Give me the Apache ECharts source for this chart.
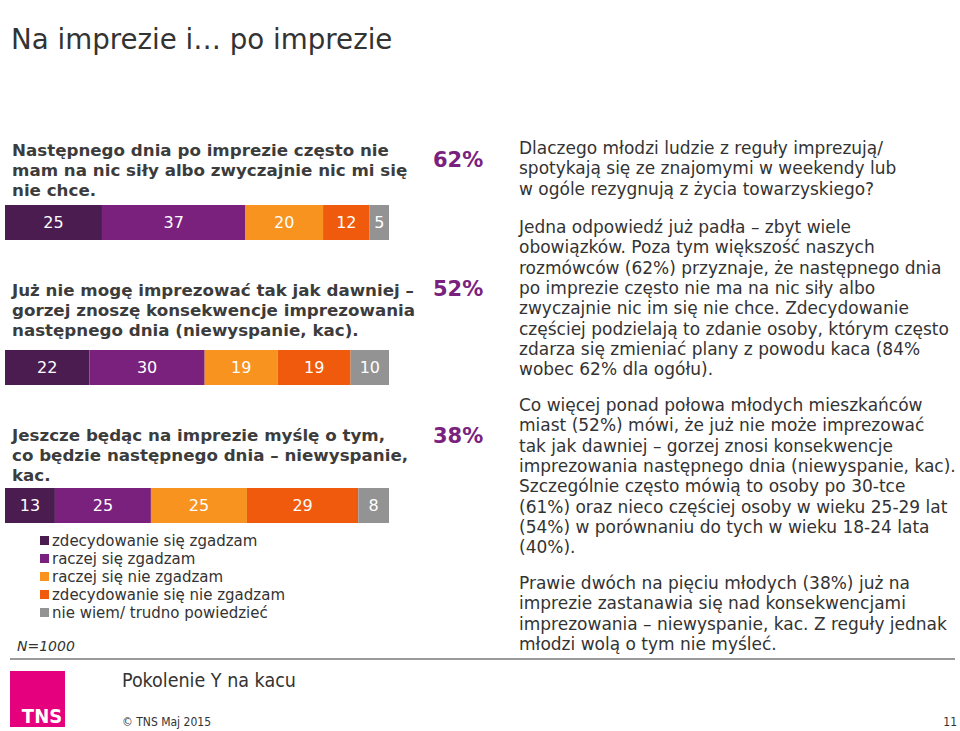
<!DOCTYPE html>
<html><head><meta charset="utf-8">
<script src="https://cdn.jsdelivr.net/npm/echarts@6/dist/echarts.min.js"></script>
<style>html,body{margin:0;padding:0;background:#fff}#c{width:960px;height:731px}</style>
</head><body><div id="c"></div>
<script>
// ---- data ----
const categories = [
  'Następnego dnia po imprezie często nie\nmam na nic siły albo zwyczajnie nic mi się\nnie chce.',
  'Już nie mogę imprezować tak jak dawniej –\ngorzej znoszę konsekwencje imprezowania\nnastępnego dnia (niewyspanie, kac).',
  'Jeszcze będąc na imprezie myślę o tym,\nco będzie następnego dnia – niewyspanie,\nkac.'
];
const seriesNames = ['zdecydowanie się zgadzam','raczej się zgadzam','raczej się nie zgadzam','zdecydowanie się nie zgadzam','nie wiem/ trudno powiedzieć'];
const zdecydowanieTak = [25, 22, 13];
const raczejTak = [37, 30, 25];
const raczejNie = [20, 19, 25];
const zdecydowanieNie = [12, 19, 29];
const nieWiem = [5, 10, 8];
const topTwoLabels = ['62%', '52%', '38%'];

const values = [zdecydowanieTak, raczejTak, raczejNie, zdecydowanieNie, nieWiem];
const colors = ['#4b1c50', '#7a217e', '#f7931e', '#ef5a0c', '#939393'];
const FONT = 'DejaVu Sans, Verdana, sans-serif';

const barTops = [205, 350, 488];
const qTops = [140, 280, 425];
const pctY = [160, 289, 436];

const grids = [], xAxes = [], yAxes = [], series = [];
categories.forEach((cat, i) => {
  grids.push({left: 5, top: barTops[i], width: 384, height: 35});
  let total = 0; values.forEach(v => total += v[i]);
  xAxes.push({type: 'value', gridIndex: i, min: 0, max: total, show: false});
  yAxes.push({type: 'category', gridIndex: i, data: [cat], show: false});
  values.forEach((v, s) => {
    series.push({
      type: 'bar', name: seriesNames[s], xAxisIndex: i, yAxisIndex: i,
      stack: 'row' + i, data: [v[i]], barWidth: 35,
      itemStyle: {color: colors[s]},
      label: {show: true, position: 'inside', color: '#fff', fontSize: 16, fontFamily: FONT},
      emphasis: {disabled: true}, animation: false
    });
  });
});

const graphic = [];
graphic.push({type: 'text', left: 11, top: 25, style: {text: 'Na imprezie i… po imprezie', fontSize: 27.7, fontFamily: FONT, fill: '#333'}});
categories.forEach((cat, i) => {
  graphic.push({type: 'text', x: 12, y: qTops[i], style: {text: cat, fontSize: 16.7, fontWeight: 'bold', fontFamily: FONT, fill: '#3c3c3c', lineHeight: 20, verticalAlign: 'top'}});
  graphic.push({type: 'text', x: 433, y: pctY[i], style: {text: topTwoLabels[i], fontSize: 21, fontWeight: 'bold', fontFamily: FONT, fill: '#7a217e', verticalAlign: 'middle'}});
});
const paras = [
  {y: 138, t: 'Dlaczego młodzi ludzie z reguły imprezują/\nspotykają się ze znajomymi w weekendy lub\nw ogóle rezygnują z życia towarzyskiego?'},
  {y: 217, t: 'Jedna odpowiedź już padła – zbyt wiele\nobowiązków. Poza tym większość naszych\nrozmówców (62%) przyznaje, że następnego dnia\npo imprezie często nie ma na nic siły albo\nzwyczajnie nic im się nie chce. Zdecydowanie\nczęściej podzielają to zdanie osoby, którym często\nzdarza się zmieniać plany z powodu kaca (84%\nwobec 62% dla ogółu).'},
  {y: 395, t: 'Co więcej ponad połowa młodych mieszkańców\nmiast (52%) mówi, że już nie może imprezować\ntak jak dawniej – gorzej znosi konsekwencje\nimprezowania następnego dnia (niewyspanie, kac).\nSzczególnie często mówią to osoby po 30-tce\n(61%) oraz nieco częściej osoby w wieku 25-29 lat\n(54%) w porównaniu do tych w wieku 18-24 lata\n(40%).'},
  {y: 573, t: 'Prawie dwóch na pięciu młodych (38%) już na\nimprezie zastanawia się nad konsekwencjami\nimprezowania – niewyspanie, kac. Z reguły jednak\nmłodzi wolą o tym nie myśleć.'}
];
paras.forEach(p => graphic.push({type: 'text', x: 519, y: p.y, style: {text: p.t, fontSize: 17, fontFamily: FONT, fill: '#333', lineHeight: 20.3, verticalAlign: 'top'}}));
graphic.push({type: 'text', x: 17, y: 646, style: {text: 'N=1000', fontSize: 14, fontStyle: 'italic', fontFamily: FONT, fill: '#333', verticalAlign: 'middle'}});
graphic.push({type: 'line', shape: {x1: 10, y1: 659, x2: 955, y2: 659}, style: {stroke: '#9a9a9a', lineWidth: 2}});
graphic.push({type: 'rect', shape: {x: 10, y: 671, width: 55, height: 56}, style: {fill: '#e5007e'}});
graphic.push({type: 'text', x: 42, y: 716, style: {text: 'TNS', fontSize: 20, fontWeight: 'bold', fontFamily: 'Liberation Sans Narrow, DejaVu Sans Condensed, sans-serif', fill: '#fff', align: 'center', verticalAlign: 'middle'}});
graphic.push({type: 'text', x: 122, y: 680, style: {text: 'Pokolenie Y na kacu', fontSize: 19.5, fontFamily: 'DejaVu Sans Condensed, sans-serif', fill: '#333', verticalAlign: 'middle'}});
graphic.push({type: 'text', x: 122, y: 722, style: {text: '© TNS Maj 2015', fontSize: 12, fontFamily: 'DejaVu Sans Condensed, sans-serif', fill: '#333', verticalAlign: 'middle'}});
graphic.push({type: 'text', x: 957, y: 722, style: {text: '11', fontSize: 12, fontFamily: 'DejaVu Sans Condensed, sans-serif', fill: '#333', align: 'right', verticalAlign: 'middle'}});

const chart = echarts.init(document.getElementById('c'), null, {renderer: 'svg'});
chart.setOption({
  animation: false,
  grid: grids, xAxis: xAxes, yAxis: yAxes, series: series,
  legend: {
    data: seriesNames, orient: 'vertical', left: 35, top: 528,
    itemWidth: 9, itemHeight: 9, itemGap: 3, icon: 'rect', selectedMode: false,
    textStyle: {fontSize: 15, fontFamily: FONT, color: '#333', padding: [0, 0, 0, -2]}
  },
  graphic: graphic
});
</script></body></html>
